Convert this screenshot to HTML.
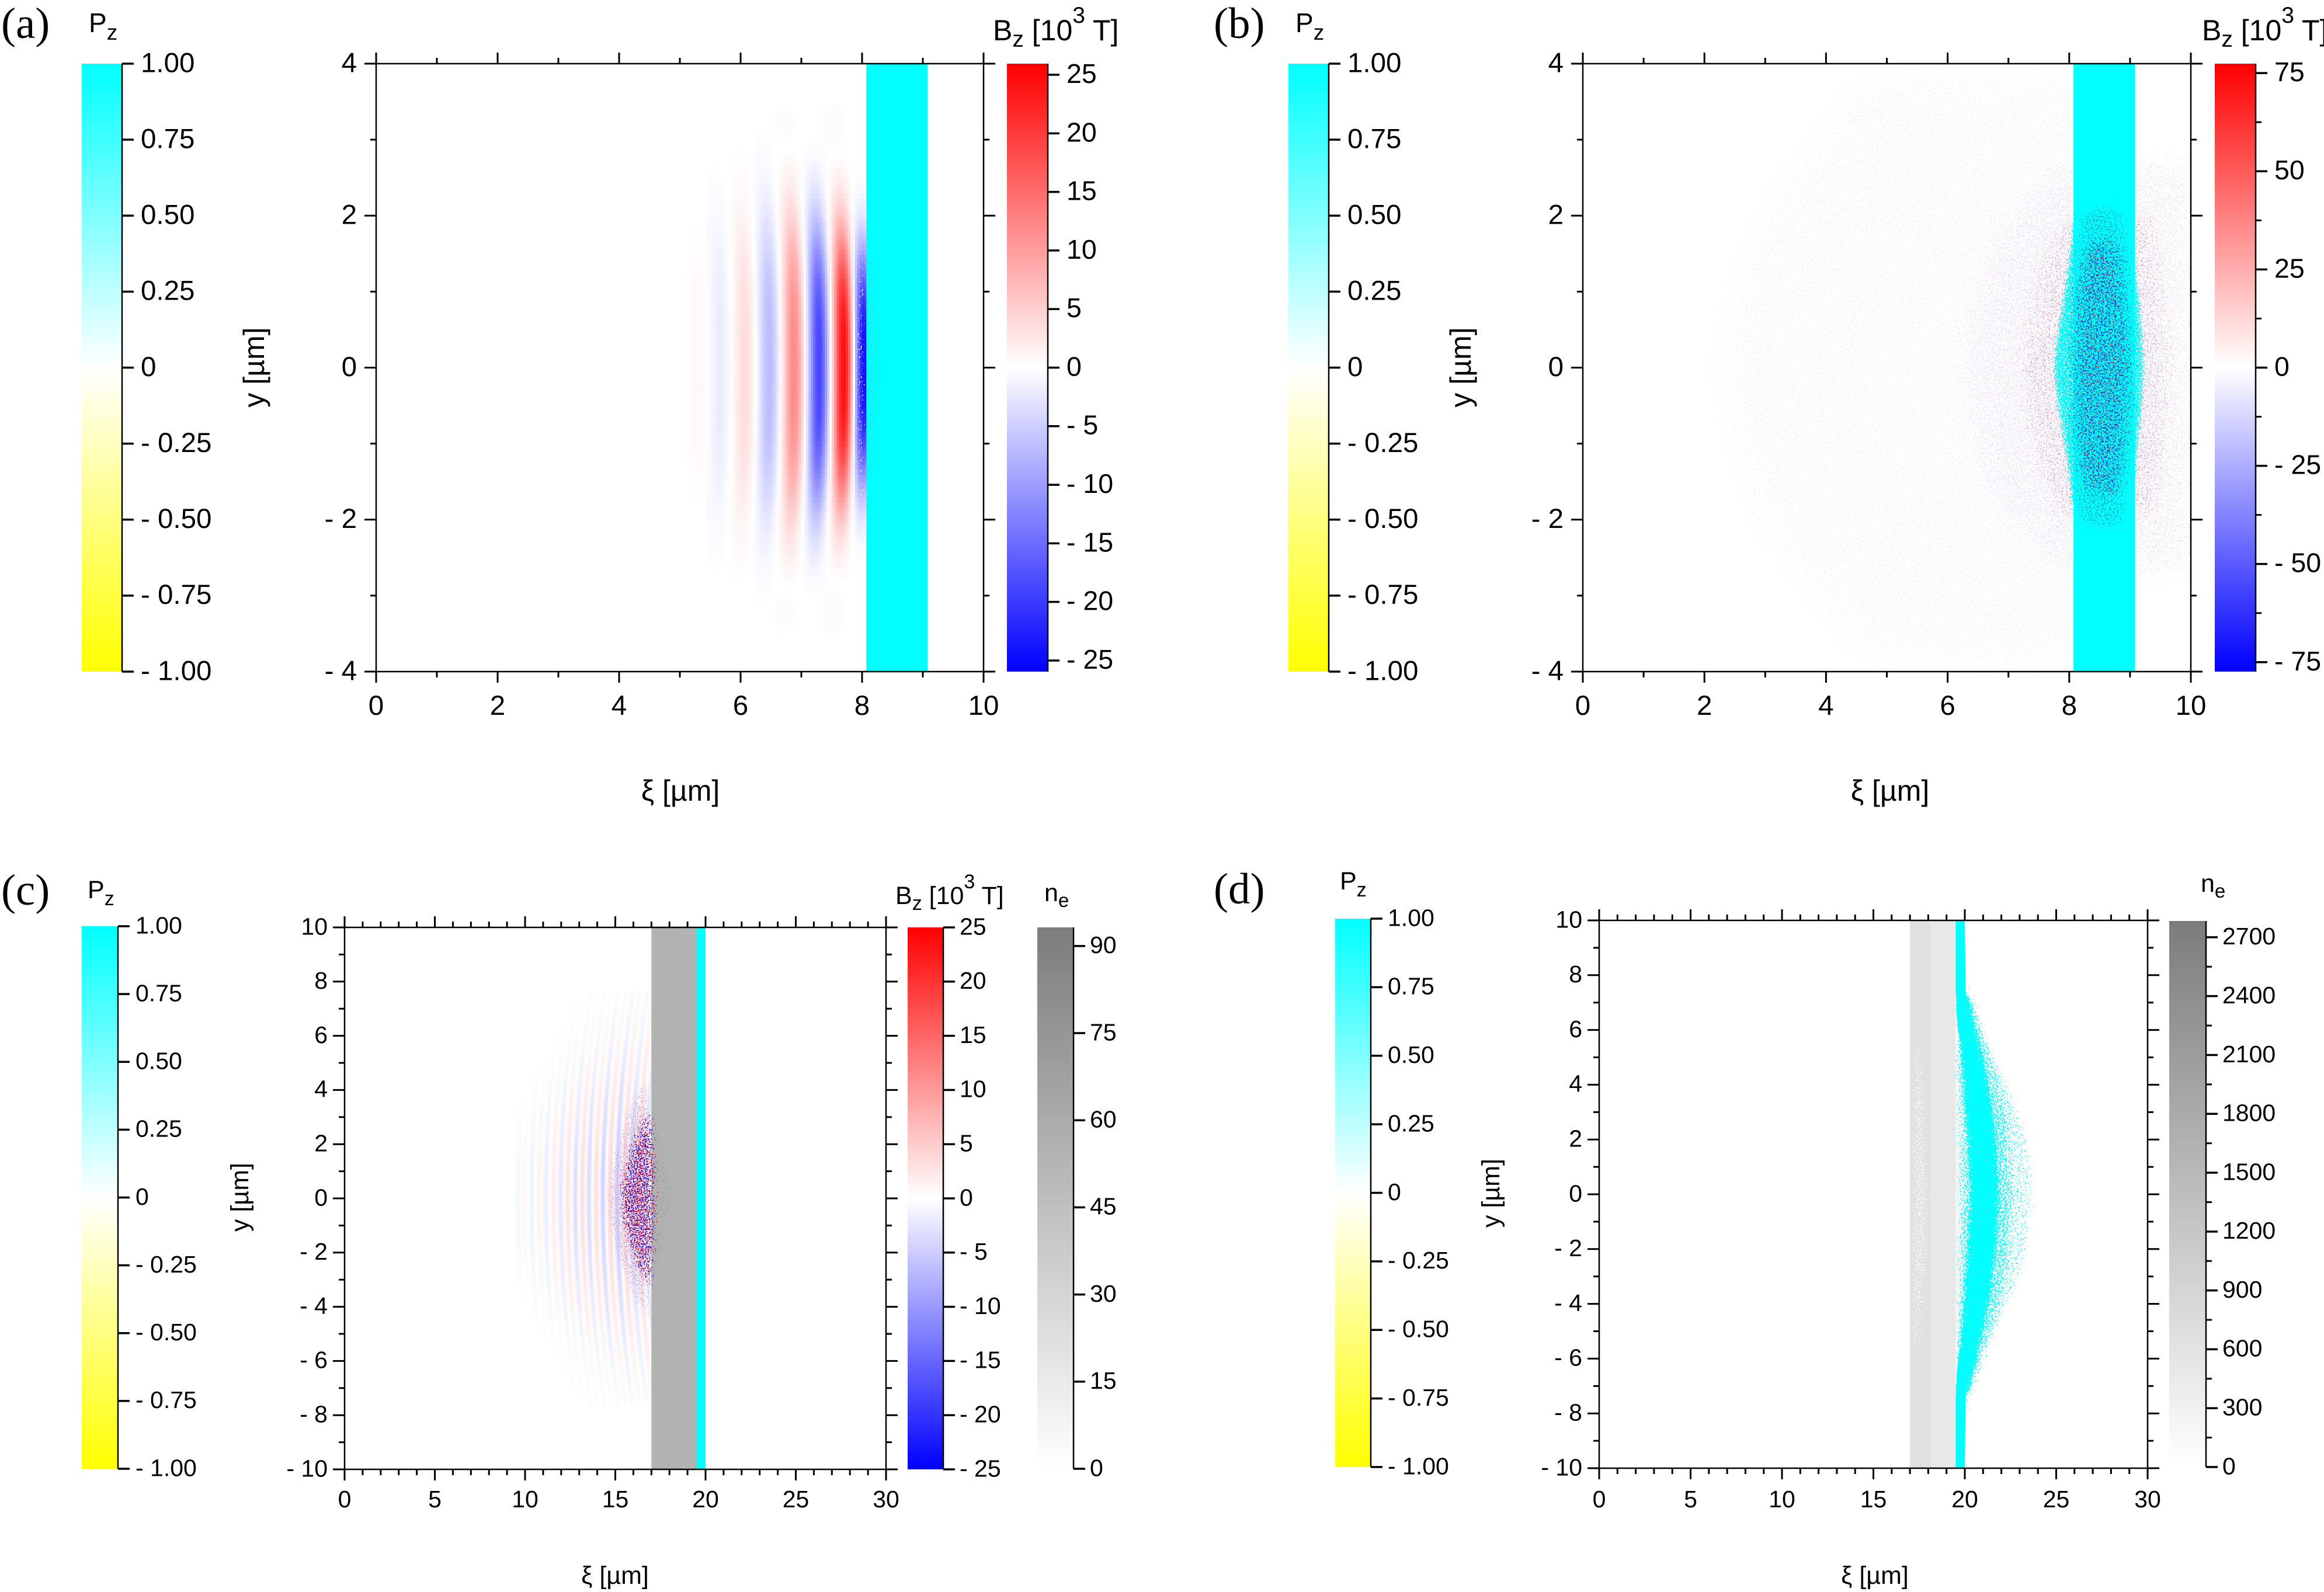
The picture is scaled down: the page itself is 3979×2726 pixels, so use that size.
<!DOCTYPE html>
<html lang="en">
<head>
<meta charset="utf-8">
<title>Magnetic field and polarization maps</title>
<style>
html,body{margin:0;padding:0;background:#fff;}
svg{display:block;}
text{font-family:"Liberation Sans",sans-serif;fill:#000;}
.tag{font-family:"Liberation Serif",serif;font-size:75px;}
.big{font-size:50px;}
.small{font-size:43px;}
</style>
</head>
<body>
<svg id="figure" xmlns="http://www.w3.org/2000/svg" width="3979" height="2726" viewBox="0 0 3979 2726">
<defs id="defs">
<linearGradient id="pz-map" x1="0" y1="0" x2="0" y2="1"><stop offset="0" stop-color="#00ffff"/><stop offset="0.5" stop-color="#ffffff"/><stop offset="1" stop-color="#ffff00"/></linearGradient>
<linearGradient id="bz-map" x1="0" y1="0" x2="0" y2="1"><stop offset="0" stop-color="#ff0000"/><stop offset="0.5" stop-color="#ffffff"/><stop offset="1" stop-color="#0000ff"/></linearGradient>
<linearGradient id="ne-map" x1="0" y1="0" x2="0" y2="1"><stop offset="0" stop-color="#7c7c7c"/><stop offset="1" stop-color="#ffffff"/></linearGradient>
</defs>
<rect x="0" y="0" width="3979" height="2726" fill="#fff"/>

<g>
<text class="tag" x="2" y="65">(a)</text>
<text class="tag" x="2078" y="65">(b)</text>
<text class="tag" x="2" y="1549">(c)</text>
<text class="tag" x="2078" y="1547">(d)</text>
</g>

<g>
<text x="152" y="55" font-size="46">P<tspan dy="13" font-size="37">z</tspan></text>
<text x="2218" y="55" font-size="46">P<tspan dy="13" font-size="37">z</tspan></text>
<text class="small" x="150" y="1538">P<tspan dy="12" font-size="34">z</tspan></text>
<text class="small" x="2294" y="1523">P<tspan dy="12" font-size="34">z</tspan></text>
<text class="big" x="1700" y="69">B<tspan dy="11" font-size="39">z</tspan><tspan dy="-11"> [10</tspan><tspan dy="-30" font-size="39">3</tspan><tspan dy="30"> T]</tspan></text>
<text class="big" x="3770" y="69">B<tspan dy="11" font-size="39">z</tspan><tspan dy="-11"> [10</tspan><tspan dy="-30" font-size="39">3</tspan><tspan dy="30"> T]</tspan></text>
<text class="small" x="1533" y="1548">B<tspan dy="10" font-size="34">z</tspan><tspan dy="-10"> [10</tspan><tspan dy="-27" font-size="34">3</tspan><tspan dy="27"> T]</tspan></text>
<text class="small" x="1788" y="1543">n<tspan dy="10" font-size="33">e</tspan></text>
<text class="small" x="3768" y="1527">n<tspan dy="10" font-size="33">e</tspan></text>
</g>

<g>
<text class="big" x="1165" y="1371" text-anchor="middle">ξ [µm]</text>
<text class="big" x="3236" y="1371" text-anchor="middle">ξ [µm]</text>
<text class="small" x="1053" y="2712" text-anchor="middle">ξ [µm]</text>
<text class="small" x="3210" y="2712" text-anchor="middle">ξ [µm]</text>
<text class="big" transform="translate(452 629) rotate(-90)" text-anchor="middle">y [µm]</text>
<text class="big" transform="translate(2518 629) rotate(-90)" text-anchor="middle">y [µm]</text>
<text class="small" transform="translate(425 2050) rotate(-90)" text-anchor="middle">y [µm]</text>
<text class="small" transform="translate(2567 2043) rotate(-90)" text-anchor="middle">y [µm]</text>
</g>

<g id="panel-a"></g>
<g id="panel-b"></g>
<g id="panel-c"></g>
<g id="panel-d"></g>
</svg>

<script>
/* ---------- tick values ---------- */
const pzTicks = [1, 0.75, 0.5, 0.25, 0, -0.25, -0.5, -0.75, -1];
const bzTicksA = [25, 20, 15, 10, 5, 0, -5, -10, -15, -20, -25];
const bzTicksB = [75, 50, 25, 0, -25, -50, -75];
const bzMinorB = [62.5, 37.5, 12.5, -12.5, -37.5, -62.5];
const bzTicksC = [25, 20, 15, 10, 5, 0, -5, -10, -15, -20, -25];
const neTicksC = [0, 15, 30, 45, 60, 75, 90];
const neTicksD = [0, 300, 600, 900, 1200, 1500, 1800, 2100, 2400, 2700];
const neMinorD = [150, 450, 750, 1050, 1350, 1650, 1950, 2250, 2550];

const xTicksNarrow = [0, 2, 4, 6, 8, 10];
const xMinorNarrow = [1, 3, 5, 7, 9];
const yTicksNarrow = [-4, -2, 0, 2, 4];
const yMinorNarrow = [-3, -1, 1, 3];
const xTicksWide = [0, 5, 10, 15, 20, 25, 30];
const xMinorWide = [1,2,3,4,6,7,8,9,11,12,13,14,16,17,18,19,21,22,23,24,26,27,28,29];
const yTicksWide = [-10, -8, -6, -4, -2, 0, 2, 4, 6, 8, 10];
const yMinorWide = [-9, -7, -5, -3, -1, 1, 3, 5, 7, 9];

/* ---------- target slabs [start, end] in µm ---------- */
const cyanSlabA = [8.07, 9.08];
const cyanSlabB = [8.07, 9.08];
const graySlabC = [17, 19.5];
const cyanSlabC = [19.5, 20];
const graySlabD1 = [17, 18.15];
const graySlabD2 = [18.15, 19.5];
const paleGapRangeD = [19.5, 20];
const paleGapYD = [-5, 5];

/* ---------- Bz wave bands, panel a ---------- */
const aBandXi = [5.33, 5.66, 6.07, 6.47, 6.88, 7.29, 7.70, 8.03, 6.86, 7.25, 7.65, 6.86, 7.25, 7.65];
const aBandY  = [0, 0, 0, 0, 0, 0, 0, 0, 3.1, 3.1, 3.1, -3.1, -3.1, -3.1];
const aBandAmp = [0.8, -2.1, 3.6, -7, 12, -19, 25, -25, -0.6, 0.25, -0.6, -0.6, 0.25, -0.6];
const aBandSpread = [1.6, 1.95, 1.95, 2.0, 2.0, 1.9, 1.8, 1.55, 0.42, 0.42, 0.42, 0.42, 0.42, 0.42];

/* ---------- Bz wave bands, panel c ---------- */
const cBandXi = [9.61, 9.96, 10.36, 10.77, 11.15, 11.58, 11.97, 12.36, 12.78, 13.17, 13.53, 13.92, 14.30, 14.70, 15.10, 15.50, 15.90, 16.30, 16.70];
const cBandAmp = [-1.0, 0.8, -1.4, 1.3, -1.9, 1.9, -2.6, 2.6, -3.3, 3.3, -3.6, 3.3, -4.6, 3.8, -5.2, 4.2, -4.2, 4.2, -3.6];
const cBandSpread = [2.9, 3.2, 3.5, 3.8, 4.0, 4.3, 4.5, 4.7, 4.8, 4.9, 5.0, 5.1, 5.2, 5.3, 5.4, 5.5, 5.6, 5.7, 5.7];

/* ---------- speckle envelopes: y (µm), left edge ξ, right edge ξ ---------- */
const aStripY = [-2.0, -1, 0, 1, 2.0];
const aStripL = [7.96, 7.9, 7.86, 7.9, 7.96];
const aStripR = [8.07, 8.07, 8.07, 8.07, 8.07];
const aInnerY = [-1.5, 0, 1.5];
const aInnerL = [8.07, 8.07, 8.07];
const aInnerR = [8.2, 8.35, 8.2];

const bHazeY = [-4.2, -2, 0, 2, 4.2];
const bHazeL = [4.5, 2.4, 1.8, 2.4, 4.5];
const bHazeR = [9.05, 9.05, 9.05, 9.05, 9.05];
const bNearY = [-3.0, -1.8, 0, 1.8, 3.0];
const bNearL = [7.6, 6.3, 5.8, 6.3, 7.6];
const bNearR = [10.4, 10.4, 10.4, 10.4, 10.4];
const bCoreHazeY = [-2.2, -1.2, 0, 1.2, 2.2];
const bCoreHazeL = [7.7, 7.2, 6.9, 7.2, 7.7];
const bCoreHazeR = [9.6, 9.8, 9.9, 9.8, 9.6];
const bBulgeY = [-2.0, -1.6, -1.2, -0.8, -0.4, 0, 0.4, 0.8, 1.2, 1.6, 2.0];
const bBulgeL = [8.04, 7.98, 7.92, 7.84, 7.76, 7.7, 7.76, 7.84, 7.92, 7.98, 8.04];
const bBulgeR = [9.08, 9.1, 9.14, 9.2, 9.24, 9.26, 9.24, 9.2, 9.14, 9.1, 9.08];
const bTealY = [-2.2, -1.6, -0.8, 0, 0.8, 1.6, 2.2];
const bTealL = [8.15, 7.98, 7.88, 7.82, 7.88, 7.98, 8.15];
const bTealR = [9.0, 9.08, 9.16, 9.2, 9.16, 9.08, 9.0];
const bDarkY = [-1.8, -1, 0, 1, 1.8];
const bDarkL = [8.15, 7.95, 7.9, 7.95, 8.15];
const bDarkR = [8.95, 9.1, 9.18, 9.1, 8.95];

const cPaleY = [-5, -3.5, -1.5, 0, 1.5, 3.5, 5];
const cPaleL = [16.9, 15.6, 14.6, 14.3, 14.6, 15.6, 16.9];
const cPaleR = [17.05, 17.05, 17.05, 17.05, 17.05, 17.05, 17.05];
const cSpeckY = [-3.6, -2.4, -1, 0, 1, 2.4, 3.6];
const cSpeckL = [16.8, 15.8, 15.2, 15.0, 15.2, 15.8, 16.8];
const cSpeckR = [17.2, 17.35, 17.45, 17.5, 17.45, 17.35, 17.2];
const cEdgeY = [-3.4, 0, 3.4];
const cEdgeL = [17, 17, 17];
const cEdgeR = [17.3, 18.4, 17.3];

const dGrayY = [-7.5, -3, 0, 3, 7.5];
const dGrayL = [17.0, 17.0, 17.0, 17.0, 17.0];
const dGrayR = [17.5, 18.0, 18.1, 18.0, 17.5];
const dStripUpperY = [5.6, 6.5, 7.5, 10.2];
const dStripLowerY = [-10.2, -7.5, -6.5, -5.6];
const dStripUpperL = [19.72, 19.56, 19.5, 19.5];
const dStripUpperR = [20.2, 20.12, 20.04, 20];
const dStripLowerL = [19.5, 19.5, 19.56, 19.72];
const dStripLowerR = [20, 20.04, 20.12, 20.2];
const dOuterY = [-8.8, -7.7, -6.2, -4.8, -3.3, -1.85, -0.5, 0.5, 2, 3.7, 4.9, 5.9, 7.1, 8.2, 9];
const dOuterL = [19.5, 19.4, 19.3, 19.2, 19.25, 19.3, 19.35, 19.35, 19.3, 19.25, 19.2, 19.3, 19.4, 19.5, 19.5];
const dOuterR = [20.2, 20.5, 20.8, 22.0, 23.1, 23.7, 23.9, 23.9, 23.7, 22.8, 22.1, 21.2, 20.5, 20.2, 20.1];
const dMidY = [-7.4, -5, -3, 0, 3, 5, 7.4];
const dMidL = [19.5, 19.5, 19.55, 19.6, 19.55, 19.5, 19.5];
const dMidR = [20.5, 21.8, 22.6, 22.9, 22.6, 21.7, 20.5];
const dCoreY = [-7.4, -6, -4, -2, 0, 2, 4, 6, 7.4];
const dCoreL = [19.5, 19.58, 19.82, 20.05, 20.2, 20.05, 19.82, 19.58, 19.5];
const dCoreR = [20.25, 20.75, 21.4, 21.8, 21.95, 21.8, 21.4, 20.75, 20.25];

/* ---------- helpers ---------- */
const NS = 'http://www.w3.org/2000/svg';
const defs = document.getElementById('defs');

function make(parent, tag, attrs) {
  const el = document.createElementNS(NS, tag);
  for (const k in attrs) el.setAttribute(k, attrs[k]);
  parent.appendChild(el);
  return el;
}
function scale(d0, d1, r0, r1) {
  return v => r0 + (v - d0) * (r1 - r0) / (d1 - d0);
}
function signed(v, digits) {
  const s = Math.abs(v).toFixed(digits);
  return v < 0 ? '- ' + s : s;
}
function pzLabel(v) {
  return v === 0 ? '0' : signed(v, 2);
}
function intLabel(v) {
  return signed(v, 0);
}
function tickLine(parent, x1, y1, x2, y2, w, name) {
  const l = make(parent, 'line', {x1, y1, x2, y2, stroke: '#000', 'stroke-width': w});
  
  
  return l;
}
function label(parent, x, y, str, size, anchor, name) {
  const t = make(parent, 'text', {x, y, 'font-size': size, 'text-anchor': anchor});
  t.textContent = str;
  
  
  return t;
}

function panel(id, l, r, t, b, xDom, yDom) {
  const g = document.getElementById(id);
  const clipId = id + '-clip';
  const clip = make(defs, 'clipPath', {id: clipId});
  make(clip, 'rect', {x: l, y: t, width: r - l, height: b - t});
  const inner = make(g, 'g', {'clip-path': 'url(#' + clipId + ')'});
  
  
  return {id, g, inner, l, r, t, b, x: scale(xDom[0], xDom[1], l, r), y: scale(yDom[0], yDom[1], b, t)};
}

function drawAxes(P, xT, xM, yT, yM, size, xLabelY, yLabelGap) {
  const a = make(P.g, 'g', {});
  
  
  const frame = make(a, 'rect', {x: P.l, y: P.t, width: P.r - P.l, height: P.b - P.t, fill: 'none', stroke: '#000', 'stroke-width': 2.5});
  
  
  xT.forEach(v => {
    const x = P.x(v);
    tickLine(a, x, P.t, x, P.t - 19, 3, 'x-major-tick');
    tickLine(a, x, P.b, x, P.b + 19, 3, 'x-major-tick');
    label(a, x, xLabelY, String(v), size, 'middle', 'x-tick-label');
  });
  xM.forEach(v => {
    const x = P.x(v);
    tickLine(a, x, P.t, x, P.t - 10, 3, 'x-minor-tick');
    tickLine(a, x, P.b, x, P.b + 10, 3, 'x-minor-tick');
  });
  yT.forEach(v => {
    const y = P.y(v);
    tickLine(a, P.l, y, P.l - 20, y, 3, 'y-major-tick');
    tickLine(a, P.r, y, P.r + 20, y, 3, 'y-major-tick');
    label(a, P.l - yLabelGap, y + size * 0.30, intLabel(v), size, 'end', 'y-tick-label');
  });
  yM.forEach(v => {
    const y = P.y(v);
    tickLine(a, P.l, y, P.l - 10, y, 3, 'y-minor-tick');
    tickLine(a, P.r, y, P.r + 10, y, 3, 'y-minor-tick');
  });
}

function drawColorbar(P, name, x0, x1, top, bottom, lo, hi, map, ticks, minor, fmt, size, labelX) {
  const g = make(P.g, 'g', {});
  
  
  const y = scale(lo, hi, bottom, top);
  const bar = make(g, 'rect', {x: x0, y: top, width: x1 - x0, height: bottom - top, fill: 'url(#' + map + ')'});
  
  
  tickLine(g, x1, top, x1, bottom, 2.5, name + '-axis');
  ticks.forEach(v => {
    tickLine(g, x1, y(v), x1 + 20, y(v), 3.5, name + '-tick');
    label(g, labelX, y(v) + size * 0.30, fmt(v), size, 'start', name + '-tick-label');
  });
  minor.forEach(v => {
    tickLine(g, x1, y(v), x1 + 10, y(v), 3, name + '-minor-tick');
  });
}

function slab(P, range, color, name) {
  const x0 = P.x(range[0]), x1 = P.x(range[1]);
  const r = make(P.inner, 'rect', {x: x0, y: P.t, width: x1 - x0, height: P.b - P.t, fill: color});
  
  
}
function slabPart(P, range, yRange, color, name) {
  const x0 = P.x(range[0]), x1 = P.x(range[1]);
  const y0 = P.y(yRange[1]), y1 = P.y(yRange[0]);
  const r = make(P.inner, 'rect', {x: x0, y: y0, width: x1 - x0, height: y1 - y0, fill: color});
  
  
}
function solidEnvelope(P, name, color, ys, ls, rs) {
  const pts = [];
  ys.forEach((y, i) => pts.push(P.x(ls[i]) + ',' + P.y(y)));
  for (let i = ys.length - 1; i >= 0; i--) pts.push(P.x(rs[i]) + ',' + P.y(ys[i]));
  const poly = make(P.inner, 'polygon', {points: pts.join(' '), fill: color});
  
  
}

/* colour of a Bz value on the blue-white-red scale */
function bzColor(v, max) {
  const t = Math.min(1, Math.abs(v) / max);
  const c = Math.round(255 * (1 - t));
  return v >= 0 ? 'rgb(255,' + c + ',' + c + ')' : 'rgb(' + c + ',' + c + ',255)';
}

/* heatmap cells of the wave field, summed from the band arrays */
function drawBands(P, name, xi, ys, amps, spreads, maxAmp, sigmaXi, bend, power, px0, px1, py0, py1, cw, ch) {
  const g = make(P.inner, 'g', {'shape-rendering': 'crispEdges'});
  
  
  const xInv = scale(P.l, P.r, P.x.inv0, P.x.inv1);
  const yInv = scale(P.t, P.b, P.y.inv0, P.y.inv1);
  for (let py = py0; py < py1; py += ch) {
    const yv = yInv(py + ch / 2);
    for (let px = px0; px < px1; px += cw) {
      const xv = xInv(px + cw / 2);
      let val = 0;
      for (let i = 0; i < xi.length; i++) {
        const c = xi[i] + bend * yv * yv;
        const dx = (xv - c) / sigmaXi;
        if (Math.abs(dx) > 3) continue;
        const dy = Math.abs(yv - (ys ? ys[i] : 0)) / spreads[i];
        val += amps[i] * Math.exp(-dx * dx) * Math.exp(-Math.pow(dy, power));
      }
      if (Math.abs(val) / maxAmp < 0.006) continue;
      const cell = make(g, 'rect', {x: px, y: py, width: cw, height: ch, fill: bzColor(val, maxAmp)});
      
      
    }
  }
}

let speckleCount = 0;
/* sparse-to-dense speckle texture confined to an envelope; `density` sets the share of filled grains */
function speckle(P, name, color, ys, ls, rs, density, freq, blur) {
  speckleCount++;
  const id = 'speckle-' + speckleCount;
  const f = make(defs, 'filter', {id, x: '-0.15', y: '-0.15', width: '1.3', height: '1.3', 'color-interpolation-filters': 'sRGB'});
  make(f, 'feGaussianBlur', {in: 'SourceAlpha', stdDeviation: blur, result: 'soft'});
  make(f, 'feTurbulence', {type: 'fractalNoise', baseFrequency: freq, numOctaves: 1, seed: speckleCount * 7 + 1, result: 'noise'});
  make(f, 'feComposite', {in: 'noise', in2: 'soft', operator: 'arithmetic', k1: 0, k2: 1, k3: 1, k4: -1, result: 'sum'});
  const ct = make(f, 'feComponentTransfer', {in: 'sum', result: 'mask'});
  make(ct, 'feFuncA', {type: 'linear', slope: 30, intercept: 0});
  make(f, 'feFlood', {'flood-color': color, result: 'ink'});
  make(f, 'feComposite', {in: 'ink', in2: 'mask', operator: 'in'});
  const pts = [];
  ys.forEach((y, i) => pts.push(P.x(ls[i]) + ',' + P.y(y)));
  for (let i = ys.length - 1; i >= 0; i--) pts.push(P.x(rs[i]) + ',' + P.y(ys[i]));
  const poly = make(P.inner, 'polygon', {points: pts.join(' '), fill: '#000', 'fill-opacity': density, filter: 'url(#' + id + ')'});
  
  
}

function withInverse(P, xDom, yDom) {
  P.x.inv0 = xDom[0]; P.x.inv1 = xDom[1];
  P.y.inv0 = yDom[1]; P.y.inv1 = yDom[0];
  return P;
}

/* ---------- panel a ---------- */
const domXn = [0, 10], domYn = [-4, 4], domXw = [0, 30], domYw = [-10, 10];
const A = withInverse(panel('panel-a', 644, 1684, 109, 1150, domXn, domYn), domXn, domYn);
drawBands(A, 'bz-field-a', aBandXi, aBandY, aBandAmp, aBandSpread, 26, 0.165, -0.012, 3, 1160, 1484, 180, 1080, 4, 8);
speckle(A, 'bz-noise-strip-a', '#ffffff', aStripY, aStripL, aStripR, 0.36, 0.38, 4);
slab(A, cyanSlabA, '#00ffff', 'polarized-slab-a');
speckle(A, 'slab-noise-a', '#30d8e8', aInnerY, aInnerL, aInnerR, 0.4, 0.4, 4);
drawAxes(A, xTicksNarrow, xMinorNarrow, yTicksNarrow, yMinorNarrow, 47.5, 1224, 33);
drawColorbar(A, 'pz-colorbar-a', 140, 209, 109, 1150, -1, 1, 'pz-map', pzTicks, [], pzLabel, 47.5, 241);
drawColorbar(A, 'bz-colorbar-a', 1724, 1794, 109, 1150, -25.95, 25.95, 'bz-map', bzTicksA, [], intLabel, 46.5, 1826);

/* ---------- panel b ---------- */
const B = withInverse(panel('panel-b', 2710, 3751, 109, 1150, domXn, domYn), domXn, domYn);
speckle(B, 'field-haze-b', '#f7f5fc', bHazeY, bHazeL, bHazeR, 0.46, 0.37, 45);
speckle(B, 'field-haze-pink-b', '#fae2e8', bNearY, bNearL, bNearR, 0.38, 0.37, 40);
speckle(B, 'field-haze-blue-b', '#e2e2f9', bNearY, bNearL, bNearR, 0.38, 0.39, 40);
speckle(B, 'field-core-red-b', '#f0a8b6', bCoreHazeY, bCoreHazeL, bCoreHazeR, 0.37, 0.37, 26);
speckle(B, 'field-core-blue-b', '#b0b0ea', bCoreHazeY, bCoreHazeL, bCoreHazeR, 0.35, 0.39, 26);
slab(B, cyanSlabB, '#00ffff', 'polarized-slab-b');
speckle(B, 'polarized-bulge-b', '#00ffff', bBulgeY, bBulgeL, bBulgeR, 0.6, 0.42, 6);
speckle(B, 'slab-teal-b', '#14a2c4', bTealY, bTealL, bTealR, 0.44, 0.4, 16);
speckle(B, 'slab-blue-b', '#0b36e0', bDarkY, bDarkL, bDarkR, 0.42, 0.38, 18);
speckle(B, 'slab-red-b', '#d83848', bDarkY, bDarkL, bDarkR, 0.35, 0.36, 18);
drawAxes(B, xTicksNarrow, xMinorNarrow, yTicksNarrow, yMinorNarrow, 47.5, 1224, 33);
drawColorbar(B, 'pz-colorbar-b', 2206, 2275, 109, 1150, -1, 1, 'pz-map', pzTicks, [], pzLabel, 47.5, 2307);
drawColorbar(B, 'bz-colorbar-b', 3792, 3862, 109, 1150, -77.4, 77.4, 'bz-map', bzTicksB, bzMinorB, intLabel, 46.5, 3894);

/* ---------- panel c ---------- */
const C = withInverse(panel('panel-c', 590, 1517, 1588, 2516, domXw, domYw), domXw, domYw);
drawBands(C, 'bz-field-c', cBandXi, null, cBandAmp, cBandSpread, 25, 0.14, 0.015, 2.2, 870, 1115, 1700, 2406, 3, 6);
speckle(C, 'bz-noise-pale-red-c', '#f8b4bc', cPaleY, cPaleL, cPaleR, 0.42, 0.42, 10);
speckle(C, 'bz-noise-pale-blue-c', '#b4b4f8', cPaleY, cPaleL, cPaleR, 0.42, 0.44, 10);
slab(C, graySlabC, '#b2b2b2', 'density-slab-c');
speckle(C, 'slab-shade-c', '#a6a6a6', cEdgeY, cEdgeL, cEdgeR, 0.46, 0.42, 7);
speckle(C, 'bz-noise-red-c', '#f00a14', cSpeckY, cSpeckL, cSpeckR, 0.45, 0.42, 11);
speckle(C, 'bz-noise-blue-c', '#1010ee', cSpeckY, cSpeckL, cSpeckR, 0.44, 0.44, 11);
slab(C, cyanSlabC, '#00ffff', 'polarized-slab-c');
drawAxes(C, xTicksWide, xMinorWide, yTicksWide, yMinorWide, 41, 2581, 29);
drawColorbar(C, 'pz-colorbar-c', 140, 202, 1586, 2515, -1, 1, 'pz-map', pzTicks, [], pzLabel, 41, 232);
drawColorbar(C, 'bz-colorbar-c', 1554, 1615, 1588, 2516, -25, 25, 'bz-map', bzTicksC, [], intLabel, 41, 1643);
drawColorbar(C, 'ne-colorbar-c', 1776, 1838, 1588, 2515, 0, 93.2, 'ne-map', neTicksC, [], intLabel, 41, 1866);

/* ---------- panel d ---------- */
const D = withInverse(panel('panel-d', 2738, 3677, 1576, 2514, domXw, domYw), domXw, domYw);
slab(D, graySlabD1, '#e1e1e1', 'density-slab-d-front');
slab(D, graySlabD2, '#e8e8e8', 'density-slab-d-rear');
speckle(D, 'slab-bright-noise-d', '#fafafa', dGrayY, dGrayL, dGrayR, 0.54, 0.42, 12);
slabPart(D, paleGapRangeD, paleGapYD, '#f6f6f6', 'pale-gap-d');
solidEnvelope(D, 'polarized-strip-top-d', '#00ffff', dStripUpperY, dStripUpperL, dStripUpperR);
solidEnvelope(D, 'polarized-strip-bottom-d', '#00ffff', dStripLowerY, dStripLowerL, dStripLowerR);
speckle(D, 'polarized-scatter-outer-d', '#00ffff', dOuterY, dOuterL, dOuterR, 0.39, 0.43, 9);
speckle(D, 'polarized-scatter-mid-d', '#00ffff', dMidY, dMidL, dMidR, 0.48, 0.41, 10);
speckle(D, 'polarized-scatter-core-d', '#00ffff', dCoreY, dCoreL, dCoreR, 0.74, 0.42, 7);
drawAxes(D, xTicksWide, xMinorWide, yTicksWide, yMinorWide, 41, 2581, 29);
drawColorbar(D, 'pz-colorbar-d', 2286, 2347, 1573, 2512, -1, 1, 'pz-map', pzTicks, [], pzLabel, 41, 2376);
drawColorbar(D, 'ne-colorbar-d', 3714, 3777, 1577, 2512, 0, 2783, 'ne-map', neTicksD, neMinorD, intLabel, 41, 3805);
</script>
</body>
</html>
